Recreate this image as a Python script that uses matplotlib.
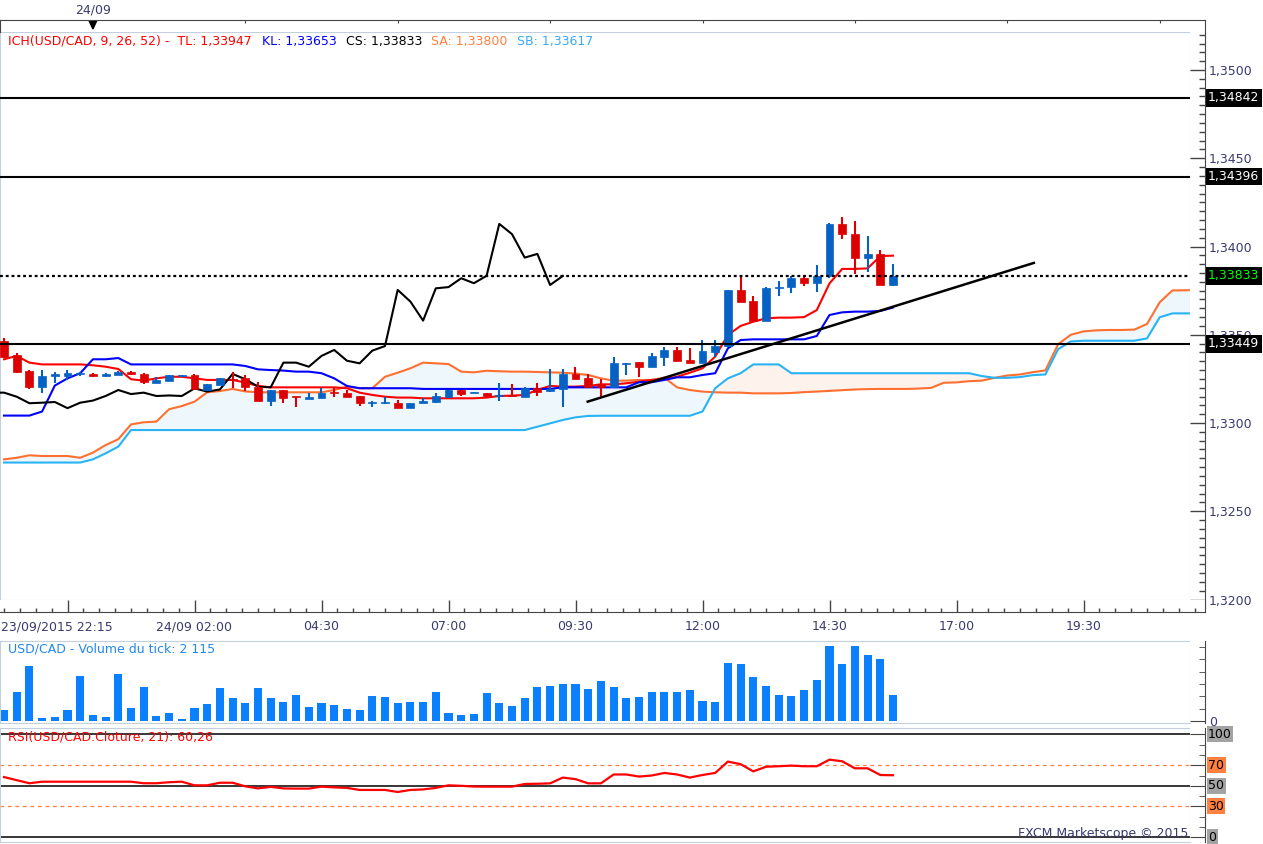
import numpy as np
import matplotlib.pyplot as plt
from matplotlib.patches import Polygon
from matplotlib.transforms import blended_transform_factory

# ---- data (15 min bars, index 0..70) ----
open_ = [1.33465, 1.33385, 1.33295, 1.33206, 1.33269, 1.33264, 1.33275, 1.33280, 1.33265, 1.33274,
         1.33291, 1.33280, 1.33229, 1.33240, 1.33268, 1.33272, 1.33187, 1.33215, 1.33249, 1.33257,
         1.33206, 1.33125, 1.33187, 1.33147, 1.33136, 1.33144, 1.33178, 1.33168, 1.33155, 1.33113,
         1.33115, 1.33112, 1.33084, 1.33112, 1.33121, 1.33149, 1.33187, 1.33170, 1.33168, 1.33153,
         1.33158, 1.33149, 1.33196, 1.33183, 1.33191, 1.33278, 1.33253, 1.33221, 1.33202, 1.33336,
         1.33347, 1.33319, 1.33376, 1.33414, 1.33357, 1.33338, 1.33404, 1.33436, 1.33754, 1.33691,
         1.33580, 1.33763, 1.33768, 1.33820, 1.33792, 1.33833, 1.34128, 1.34070, 1.33937, 1.33958,
         1.33782]
high = [1.33480, 1.33398, 1.33298, 1.33300, 1.33287, 1.33298, 1.33289, 1.33282, 1.33282, 1.33293,
        1.33294, 1.33282, 1.33261, 1.33274, 1.33274, 1.33275, 1.33221, 1.33255, 1.33291, 1.33272,
        1.33231, 1.33187, 1.33187, 1.33147, 1.33172, 1.33200, 1.33200, 1.33185, 1.33155, 1.33125,
        1.33149, 1.33130, 1.33115, 1.33140, 1.33168, 1.33187, 1.33187, 1.33174, 1.33168, 1.33225,
        1.33221, 1.33206, 1.33225, 1.33304, 1.33304, 1.33319, 1.33278, 1.33248, 1.33376, 1.33342,
        1.33347, 1.33398, 1.33432, 1.33432, 1.33423, 1.33470, 1.33470, 1.33754, 1.33833, 1.33720,
        1.33768, 1.33805, 1.33833, 1.33833, 1.33895, 1.34133, 1.34165, 1.34144, 1.34059, 1.33980,
        1.33901]
low = [1.33370, 1.33285, 1.33194, 1.33172, 1.33225, 1.33244, 1.33264, 1.33262, 1.33263, 1.33272,
       1.33272, 1.33220, 1.33229, 1.33238, 1.33262, 1.33188, 1.33185, 1.33213, 1.33197, 1.33183,
       1.33125, 1.33096, 1.33115, 1.33093, 1.33136, 1.33144, 1.33149, 1.33145, 1.33098, 1.33093,
       1.33107, 1.33084, 1.33084, 1.33112, 1.33115, 1.33142, 1.33153, 1.33170, 1.33140, 1.33127,
       1.33153, 1.33149, 1.33153, 1.33178, 1.33093, 1.33248, 1.33206, 1.33149, 1.33202, 1.33270,
       1.33262, 1.33319, 1.33323, 1.33353, 1.33338, 1.33338, 1.33376, 1.33430, 1.33688, 1.33580,
       1.33580, 1.33722, 1.33739, 1.33774, 1.33744, 1.33822, 1.34041, 1.33844, 1.33858, 1.33782,
       1.33776]
close = [1.33374, 1.33291, 1.33206, 1.33266, 1.33278, 1.33283, 1.33278, 1.33265, 1.33280, 1.33291,
         1.33276, 1.33231, 1.33244, 1.33272, 1.33272, 1.33191, 1.33221, 1.33253, 1.33244, 1.33202,
         1.33125, 1.33187, 1.33143, 1.33145, 1.33147, 1.33172, 1.33172, 1.33149, 1.33112, 1.33115,
         1.33119, 1.33084, 1.33115, 1.33127, 1.33153, 1.33187, 1.33164, 1.33172, 1.33153, 1.33156,
         1.33153, 1.33196, 1.33178, 1.33190, 1.33278, 1.33248, 1.33206, 1.33202, 1.33342, 1.33342,
         1.33319, 1.33380, 1.33414, 1.33353, 1.33338, 1.33410, 1.33436, 1.33754, 1.33688, 1.33580,
         1.33763, 1.33770, 1.33820, 1.33792, 1.33834, 1.34128, 1.34070, 1.33937, 1.33958, 1.33782,
         1.33833]

tenkan = [1.33361, 1.33380, 1.33342, 1.33332, 1.33332, 1.33332, 1.33332, 1.33327, 1.33319, 1.33306,
          1.33248, 1.33240, 1.33253, 1.33262, 1.33262, 1.33253, 1.33244, 1.33244, 1.33244, 1.33229,
          1.33210, 1.33202, 1.33202, 1.33202, 1.33202, 1.33202, 1.33202, 1.33197, 1.33172, 1.33159,
          1.33149, 1.33144, 1.33144, 1.33140, 1.33140, 1.33140, 1.33140, 1.33140, 1.33144, 1.33153,
          1.33155, 1.33159, 1.33187, 1.33210, 1.33206, 1.33206, 1.33210, 1.33219, 1.33219, 1.33225,
          1.33234, 1.33244, 1.33248, 1.33262, 1.33285, 1.33310, 1.33376, 1.33499, 1.33550, 1.33574,
          1.33593, 1.33597, 1.33597, 1.33600, 1.33640, 1.33791, 1.33873, 1.33873, 1.33876, 1.33946,
          1.33948]
kijun = [1.33042, 1.33042, 1.33042, 1.33065, 1.33212, 1.33253, 1.33282, 1.33361, 1.33361, 1.33368,
         1.33332, 1.33332, 1.33332, 1.33332, 1.33332, 1.33332, 1.33332, 1.33332, 1.33332, 1.33323,
         1.33304, 1.33300, 1.33297, 1.33291, 1.33291, 1.33282, 1.33253, 1.33210, 1.33197, 1.33197,
         1.33197, 1.33197, 1.33197, 1.33193, 1.33193, 1.33193, 1.33193, 1.33193, 1.33193, 1.33193,
         1.33193, 1.33193, 1.33193, 1.33193, 1.33202, 1.33202, 1.33202, 1.33202, 1.33202, 1.33202,
         1.33231, 1.33231, 1.33244, 1.33259, 1.33259, 1.33272, 1.33282, 1.33423, 1.33470, 1.33474,
         1.33474, 1.33474, 1.33474, 1.33474, 1.33493, 1.33612, 1.33627, 1.33631, 1.33631, 1.33635,
         1.33654]

# senkou spans, index 0..96 (26 bars ahead)
senkou_a = [1.32794, 1.32803, 1.32817, 1.32813, 1.32813, 1.32813, 1.32803, 1.32832, 1.32875, 1.32908,
            1.32992, 1.33004, 1.33008, 1.33078, 1.33096, 1.33121, 1.33174, 1.33181, 1.33193, 1.33179,
            1.33174, 1.33174, 1.33174, 1.33174, 1.33174, 1.33174, 1.33187, 1.33206, 1.33197, 1.33197,
            1.33262, 1.33285, 1.33310, 1.33342, 1.33338, 1.33334, 1.33291, 1.33287, 1.33296, 1.33293,
            1.33291, 1.33291, 1.33289, 1.33287, 1.33285, 1.33280, 1.33272, 1.33253, 1.33240, 1.33240,
            1.33244, 1.33244, 1.33257, 1.33202, 1.33187, 1.33178, 1.33174, 1.33172, 1.33172, 1.33168,
            1.33168, 1.33168, 1.33170, 1.33175, 1.33178, 1.33182, 1.33186, 1.33190, 1.33192, 1.33193,
            1.33193, 1.33193, 1.33195, 1.33199, 1.33228, 1.33230, 1.33237, 1.33240, 1.33256, 1.33269,
            1.33275, 1.33288, 1.33298, 1.33446, 1.33500, 1.33519, 1.33525, 1.33527, 1.33527, 1.33529,
            1.33561, 1.33684, 1.33751, 1.33752, 1.33754, 1.33791, 1.33800]
senkou_b = [1.32776, 1.32776, 1.32776, 1.32776, 1.32776, 1.32776, 1.32776, 1.32794, 1.32828, 1.32866,
            1.32960, 1.32960, 1.32960, 1.32960, 1.32960, 1.32960, 1.32960, 1.32960, 1.32960, 1.32960,
            1.32960, 1.32960, 1.32960, 1.32960, 1.32960, 1.32960, 1.32960, 1.32960, 1.32960, 1.32960,
            1.32960, 1.32960, 1.32960, 1.32960, 1.32960, 1.32960, 1.32960, 1.32960, 1.32960, 1.32960,
            1.32960, 1.32960, 1.32979, 1.32998, 1.33017, 1.33032, 1.33040, 1.33041, 1.33041, 1.33041,
            1.33041, 1.33041, 1.33041, 1.33041, 1.33041, 1.33065, 1.33197, 1.33253, 1.33282, 1.33332,
            1.33332, 1.33332, 1.33282, 1.33282, 1.33282, 1.33282, 1.33282, 1.33282, 1.33282, 1.33282,
            1.33282, 1.33282, 1.33282, 1.33282, 1.33282, 1.33282, 1.33282, 1.33266, 1.33256, 1.33256,
            1.33260, 1.33271, 1.33275, 1.33418, 1.33462, 1.33466, 1.33466, 1.33466, 1.33466, 1.33466,
            1.33479, 1.33599, 1.33621, 1.33621, 1.33621, 1.33621, 1.33617]

volume = [918, 2376, 4455, 270, 351, 918, 3645, 486, 351, 3807,
          1080, 2781, 432, 648, 189, 1080, 1377, 2673, 1863, 1458,
          2673, 1863, 1539, 2106, 1134, 1458, 1296, 999, 891, 2025,
          1944, 1458, 1539, 1539, 2349, 648, 486, 567, 2268, 1458,
          1215, 1863, 2754, 2835, 2997, 2997, 2592, 3240, 2754, 1890,
          1971, 2376, 2376, 2376, 2538, 1647, 1566, 4725, 4644, 3591,
          2862, 2133, 2052, 2538, 3348, 6102, 4644, 6102, 5373, 5049,
          2115]

rsi = [58.5, 55.5, 52.5, 54, 54, 54, 54, 54, 54, 54,
       54, 52.5, 52.5, 53.5, 54, 50.5, 50.5, 53, 53, 49.5,
       47.5, 49, 47.5, 47.3, 47.3, 49.2, 48.5, 48, 46, 46,
       46, 44, 46, 46.5, 48, 50.5, 50, 49.3, 49.2, 49.2,
       49.2, 51.8, 52, 52.4, 58, 56.5, 52.4, 52.4, 61, 61,
       59, 60, 62.5, 61, 58, 60.5, 62.5, 73.5, 71, 64,
       68.5, 69, 69.6, 69, 69, 75.4, 73.8, 67, 67, 60.5,
       60.26]

levels = [1.34842, 1.34396, 1.33449]
trend_x = [45.96, 81.09]
trend_y = [1.33121, 1.33907]

time_pos = [5, 15, 25, 35, 45, 55, 65, 75, 85]
time_labels = ['23/09/2015 22:15', '24/09 02:00', '04:30', '07:00', '09:30',
               '12:00', '14:30', '17:00', '19:30']
top_ticks = [19, 31, 43, 55, 67, 79, 91]
day_marker = 7

# ---- layout helpers (pixel coords, origin top-left) ----
W, H = 1263, 844
STEP = 12.7


def box(x0, y0, x1, y1):
    return [x0 / W, 1 - y1 / H, (x1 - x0) / W, (y1 - y0) / H]


def xlim_px(x0, x1):
    return ((x0 - 4) / STEP, (x1 - 4) / STEP)


def price_at(y):
    return 1.35 - (y - 70) / 17650.0


def fmt(v, n):
    return f'{v:.{n}f}'.replace('.', ',')


FRAME = '#c3cfdb'
DARK = '#444444'
LBL = '#3a3a70'
BLUE_C = '#0562c4'
RED_C = '#dc0000'
SA_C = '#ff6f30'
SB_C = '#27b3f4'

plt.rcParams['font.family'] = ['DejaVu Sans']
plt.rcParams['font.size'] = 9

fig = plt.figure(figsize=(W / 100, H / 100), dpi=100)

# ---- main price panel ----
ax = fig.add_axes(box(0, 32, 1190, 600))
ax.set_xlim(*xlim_px(0, 1190))
ax.set_ylim(price_at(600), price_at(32))
ax.set_xticks([])
ax.set_yticks([])
for s in ax.spines.values():
    s.set_color(FRAME)

xs = np.arange(len(senkou_a))
sa = np.array(senkou_a)
sb = np.array(senkou_b)
ax.fill_between(xs, sa, sb, where=sa >= sb, interpolate=True, color='#eef7fc', lw=0, zorder=1)
ax.fill_between(xs, sa, sb, where=sa < sb, interpolate=True, color='#fdf2ec', lw=0, zorder=1)
ax.plot(xs, sa, color=SA_C, lw=1.5, zorder=2)
ax.plot(xs, sb, color=SB_C, lw=1.5, zorder=2)

xb = np.arange(len(close))
ax.plot(xb, tenkan, color='#ff0000', lw=1.5, zorder=3)
ax.plot(xb, kijun, color='#0000ff', lw=1.5, zorder=3)
# chikou span: close shifted 26 bars back
ax.plot(xb - 26, close, color='black', lw=1.5, zorder=3)

o = np.array(open_)
c = np.array(close)
cols = np.where(c >= o, BLUE_C, RED_C)
ax.vlines(xb, low, high, colors=cols, lw=1.5, zorder=4)
body_h = np.maximum(np.abs(c - o), 0.00006)
ax.bar(xb, body_h, bottom=np.minimum(o, c), width=0.62, color=cols,
       edgecolor=cols, linewidth=0.5, zorder=5)

for lv in levels:
    ax.axhline(lv, color='black', lw=1.5, zorder=6)
ax.axhline(close[-1], color='black', lw=1.6, ls=(0, (1.3, 1.3)), zorder=6)
ax.plot(trend_x, trend_y, color='black', lw=1.8, zorder=6)

# price scale
ps = fig.add_axes(box(1190, 32, 1205, 600))
ps.set_ylim(ax.get_ylim())
ps.set_xticks([])
for k in ['top', 'left', 'bottom']:
    ps.spines[k].set_visible(False)
ps.spines['right'].set_color(DARK)
ps.yaxis.tick_right()
major = [1.3200, 1.3250, 1.3300, 1.3350, 1.3400, 1.3450, 1.3500]
ps.set_yticks(major)
ps.set_yticklabels([fmt(v, 4) for v in major])
ps.set_yticks(np.arange(1.3200, 1.35201, 0.0005), minor=True)
ps.tick_params(axis='y', which='major', direction='in', length=10.8, width=1,
               color=DARK, labelcolor=LBL, labelsize=9, pad=3)
ps.tick_params(axis='y', which='minor', direction='in', length=4.3, width=1, color=DARK)

tr = blended_transform_factory(fig.transFigure, ax.transData)
for lv in levels:
    fig.text(1208 / W, lv, fmt(lv, 5), transform=tr, color='white', fontsize=9,
             va='center', ha='left', zorder=10,
             bbox=dict(boxstyle='square,pad=0.18', fc='black', ec='none'))
fig.text(1208 / W, close[-1], fmt(close[-1], 5), transform=tr, color='#00ff00', fontsize=9,
         va='center', ha='left', zorder=10,
         bbox=dict(boxstyle='square,pad=0.18', fc='black', ec='none'))

# top date strip
top = fig.add_axes(box(0, 20, 1205, 32))
top.set_xlim(*xlim_px(0, 1205))
top.set_ylim(0, 1)
top.set_yticks([])
top.spines['bottom'].set_visible(False)
for k in ['top', 'left', 'right']:
    top.spines[k].set_color(DARK)
top.xaxis.tick_top()
top.set_xticks(top_ticks)
top.set_xticklabels([])
top.tick_params(axis='x', direction='in', length=2.2, color=DARK)
top.add_patch(Polygon([(day_marker - 0.33, 1.0), (day_marker + 0.33, 1.0), (day_marker, 0.25)],
                      closed=True, color='black', transform=top.transData))
fig.text((4 + STEP * day_marker) / W, 1 - 10 / H, '24/09', ha='center', va='center',
         color=LBL, fontsize=9)

# bottom time axis
ta = fig.add_axes(box(0, 600, 1205, 612))
ta.set_xlim(*xlim_px(0, 1205))
ta.set_ylim(0, 1)
ta.set_yticks([])
for k in ['top', 'left']:
    ta.spines[k].set_visible(False)
ta.spines['bottom'].set_color(DARK)
ta.spines['right'].set_color(DARK)
ta.set_xticks(time_pos)
ta.set_xticklabels([])
ta.set_xticks(np.arange(0, 95, 1.25), minor=True)
ta.tick_params(axis='x', which='major', direction='in', length=8.6, width=1, color=DARK)
ta.tick_params(axis='x', which='minor', direction='in', length=3, width=1, color=DARK)
for i, (p, s) in enumerate(zip(time_pos, time_labels)):
    xp = 4 + STEP * p
    if i == 0:
        fig.text(1 / W, 1 - 627 / H, s, color=LBL, fontsize=9, va='center', ha='left')
    else:
        fig.text(xp / W, 1 - 627 / H, s, color=LBL, fontsize=9, va='center', ha='center')

# legend line
legend = [(8, 'ICH(USD/CAD, 9, 26, 52) -  TL: 1,33947', '#ff0000'),
          (262, 'KL: 1,33653', '#0000ff'),
          (346, 'CS: 1,33833', 'black'),
          (431, 'SA: 1,33800', '#ff7f40'),
          (517, 'SB: 1,33617', '#3aaaf5')]
for x, s, col in legend:
    fig.text(x / W, 1 - 41 / H, s, color=col, fontsize=9, va='center', ha='left')

# ---- volume panel ----
av = fig.add_axes(box(0, 641, 1190, 723))
av.set_xlim(*xlim_px(0, 1190))
av.set_ylim(-162, 6480)
av.set_xticks([])
av.set_yticks([])
for s in av.spines.values():
    s.set_color(FRAME)
av.bar(xb, volume, width=0.64, color='#0a80ff', zorder=2)

vs = fig.add_axes(box(1190, 641, 1205, 723))
vs.set_ylim(av.get_ylim())
vs.set_xticks([])
for k in ['top', 'left', 'bottom']:
    vs.spines[k].set_visible(False)
vs.spines['right'].set_color(DARK)
vs.yaxis.tick_right()
vs.set_yticks([0])
vs.set_yticklabels(['0'])
vs.set_yticks([1000, 2000, 3000, 4000, 5000, 6000], minor=True)
vs.tick_params(axis='y', which='major', direction='in', length=10.8, color=DARK,
               labelcolor=LBL, labelsize=9, pad=3)
vs.tick_params(axis='y', which='minor', direction='in', length=4.3, color=DARK)
fig.text(8 / W, 1 - 649 / H, 'USD/CAD - Volume du tick: ' + f'{volume[-1]:,}'.replace(',', ' '),
         color='#2288ee', fontsize=9, va='center', ha='left')

# ---- RSI panel ----
ar = fig.add_axes(box(0, 728, 1190, 842))
ar.set_xlim(*xlim_px(0, 1190))
ar.set_ylim(-4.5, 106.1)
ar.set_xticks([])
ar.set_yticks([])
for s in ar.spines.values():
    s.set_color(FRAME)
for lv in [100, 50, 0]:
    ar.axhline(lv, color='black', lw=1.1, zorder=1)
for lv in [70, 30]:
    ar.axhline(lv, color='#ff7f40', lw=0.9, ls=(0, (3, 3)), zorder=1)
ar.plot(xb, rsi, color='#ff0000', lw=1.6, zorder=3)

rs = fig.add_axes(box(1190, 728, 1205, 842))
rs.set_ylim(ar.get_ylim())
rs.set_xticks([])
for k in ['top', 'left', 'bottom']:
    rs.spines[k].set_visible(False)
rs.spines['right'].set_color(DARK)
rs.yaxis.tick_right()
rs.set_yticks([0, 30, 50, 70, 100])
rs.set_yticklabels([])
rs.set_yticks(np.arange(0, 101, 10), minor=True)
rs.tick_params(axis='y', which='major', direction='in', length=10.8, color=DARK)
rs.tick_params(axis='y', which='minor', direction='in', length=4.3, color=DARK)

trr = blended_transform_factory(fig.transFigure, ar.transData)
for lv, bg in [(100, '#a3a3a3'), (70, '#ff8040'), (50, '#a3a3a3'), (30, '#ff8040'), (0, '#a3a3a3')]:
    fig.text(1208 / W, lv, str(lv), transform=trr, color='black', fontsize=9,
             va='center', ha='left', zorder=10,
             bbox=dict(boxstyle='square,pad=0.12', fc=bg, ec='none'))
fig.text(8 / W, 1 - 737 / H, 'RSI(USD/CAD.Cloture, 21): ' + fmt(rsi[-1], 2),
         color='#ff0000', fontsize=9, va='center', ha='left')
fig.text(1188 / W, 1 - 834 / H, 'FXCM Marketscope \u00a9 2015', color=LBL, fontsize=9,
         va='center', ha='right')

fig.savefig('out.png', dpi=100, facecolor='white')
